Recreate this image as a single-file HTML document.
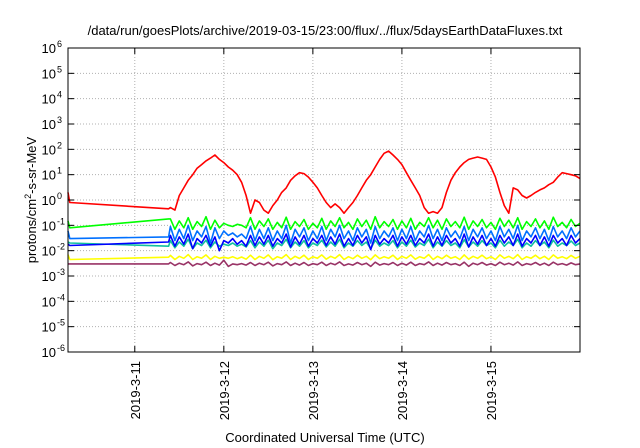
<!DOCTYPE html>
<html><head><meta charset="utf-8"><style>
body{margin:0;background:#fff;}
svg{display:block;font-family:"Liberation Sans",sans-serif;}
</style></head><body>
<svg id="chart" width="640" height="448" viewBox="0 0 640 448" xmlns="http://www.w3.org/2000/svg">
<rect width="640" height="448" fill="#fff"/>
<text x="325" y="35" font-size="13" text-anchor="middle" fill="#000">/data/run/goesPlots/archive/2019-03-15/23:00/flux/../flux/5daysEarthDataFluxes.txt</text>
<text x="325" y="442" font-size="13" text-anchor="middle" fill="#000">Coordinated Universal Time (UTC)</text>
<text transform="translate(36,200) rotate(-90)" font-size="13" text-anchor="middle" fill="#000">protons/cm<tspan dy="-5" font-size="9">2</tspan><tspan dy="5">-s-sr-MeV</tspan></text>
<g id="grid"></g><g id="series"></g><g id="axes"></g>
</svg>
<script>
// time in days since 2019-03-10 00:00
const xTickDays = [1, 2, 3, 4, 5];
const xTickLabels = ["2019-3-11", "2019-3-12", "2019-3-13", "2019-3-14", "2019-3-15"];
const yTickExps = [-6, -5, -4, -3, -2, -1, 0, 1, 2, 3, 4, 5, 6];
const preTimes = [0.25, 0.27, 1.38];
const noisyStart = 1.40;
const noisyStep = 0.05;
const seriesNames = ["purple", "yellow", "teal", "blue", "lightblue", "green", "red"];
const purplePre = [0.003, 0.003, 0.003];
const yellowPre = [0.007, 0.0045, 0.0055];
const tealPre = [0.022, 0.02, 0.015];
const bluePre = [0.018, 0.016, 0.022];
const lightbluePre = [0.06, 0.03, 0.035];
const greenPre = [0.15, 0.08, 0.18];
const redPre = [2.0, 0.8, 0.45];
const red = [0.5,0.4,1.5,3,6,10,18,25,35,45,60,40,30,20,15,10,5,1.5,0.3,1,0.8,0.4,0.3,0.6,1,2,3,6,9,12,11,8,5,3,1.5,0.8,0.5,0.7,0.5,0.3,0.5,0.8,1.5,3,6,10,20,40,70,85,60,40,25,12,6,3,1.5,0.5,0.3,0.35,0.3,0.5,2,6,12,20,30,40,45,50,45,40,20,8,2,0.6,0.3,3,2.5,1.5,1.2,1.5,2,2.5,3,4,5,8,12,11,10,9,7];
const green = [0.18,0.07,0.15,0.08,0.2,0.07,0.14,0.09,0.22,0.07,0.16,0.08,0.12,0.1,0.09,0.11,0.1,0.08,0.2,0.07,0.15,0.09,0.18,0.07,0.13,0.08,0.21,0.07,0.14,0.09,0.17,0.07,0.12,0.08,0.19,0.07,0.15,0.09,0.2,0.08,0.13,0.07,0.18,0.09,0.16,0.07,0.22,0.08,0.14,0.09,0.17,0.07,0.15,0.08,0.19,0.07,0.13,0.09,0.2,0.08,0.16,0.07,0.18,0.09,0.14,0.08,0.21,0.07,0.15,0.09,0.17,0.08,0.13,0.07,0.19,0.09,0.16,0.08,0.2,0.07,0.14,0.09,0.18,0.08,0.15,0.07,0.21,0.09,0.13,0.08,0.17,0.09,0.12];
const lightblue = [0.09,0.025,0.07,0.03,0.1,0.025,0.06,0.035,0.09,0.02,0.08,0.03,0.06,0.04,0.05,0.035,0.045,0.03,0.09,0.025,0.07,0.03,0.08,0.025,0.06,0.03,0.1,0.02,0.07,0.035,0.08,0.025,0.06,0.03,0.09,0.025,0.07,0.035,0.1,0.03,0.06,0.025,0.08,0.035,0.07,0.02,0.09,0.03,0.06,0.035,0.08,0.025,0.07,0.03,0.09,0.025,0.06,0.035,0.1,0.03,0.07,0.025,0.08,0.035,0.06,0.03,0.09,0.025,0.07,0.035,0.08,0.03,0.06,0.025,0.09,0.035,0.07,0.03,0.1,0.025,0.06,0.035,0.08,0.03,0.07,0.025,0.09,0.035,0.06,0.03,0.08,0.035,0.06];
const blue = [0.04,0.015,0.035,0.018,0.045,0.012,0.03,0.02,0.04,0.015,0.035,0.01,0.025,0.02,0.03,0.018,0.025,0.015,0.04,0.016,0.035,0.018,0.04,0.015,0.03,0.02,0.045,0.014,0.035,0.018,0.04,0.015,0.03,0.02,0.04,0.016,0.035,0.018,0.045,0.015,0.03,0.016,0.04,0.02,0.035,0.011,0.04,0.018,0.03,0.02,0.04,0.015,0.035,0.018,0.04,0.016,0.03,0.02,0.045,0.015,0.035,0.016,0.04,0.02,0.03,0.015,0.045,0.014,0.035,0.018,0.04,0.016,0.03,0.015,0.04,0.02,0.035,0.016,0.045,0.015,0.03,0.02,0.04,0.016,0.035,0.015,0.04,0.02,0.03,0.016,0.04,0.02,0.03];
const teal = [0.025,0.013,0.022,0.015,0.028,0.012,0.02,0.016,0.026,0.013,0.022,0.015,0.018,0.016,0.02,0.015,0.018,0.014,0.025,0.013,0.022,0.015,0.026,0.012,0.02,0.016,0.028,0.013,0.022,0.015,0.025,0.013,0.02,0.016,0.026,0.014,0.022,0.015,0.028,0.013,0.02,0.015,0.025,0.016,0.022,0.012,0.026,0.015,0.02,0.016,0.025,0.013,0.022,0.015,0.026,0.014,0.02,0.016,0.028,0.013,0.022,0.015,0.025,0.016,0.02,0.013,0.027,0.014,0.022,0.015,0.025,0.016,0.02,0.013,0.026,0.015,0.022,0.016,0.028,0.013,0.02,0.015,0.025,0.016,0.022,0.013,0.026,0.015,0.02,0.016,0.024,0.016,0.02];
const yellow = [0.0065,0.0045,0.006,0.005,0.007,0.0045,0.0058,0.005,0.0068,0.0045,0.006,0.005,0.0055,0.005,0.0058,0.0048,0.0056,0.0046,0.0066,0.0045,0.006,0.005,0.0068,0.0044,0.0058,0.005,0.007,0.0045,0.006,0.0049,0.0066,0.0045,0.0058,0.005,0.0068,0.0046,0.006,0.005,0.007,0.0045,0.0058,0.0048,0.0066,0.005,0.006,0.0044,0.0068,0.0048,0.0058,0.005,0.0066,0.0045,0.006,0.005,0.0068,0.0046,0.0058,0.005,0.007,0.0045,0.006,0.0048,0.0066,0.005,0.0058,0.0045,0.0068,0.0046,0.006,0.005,0.0066,0.0048,0.0058,0.0045,0.0068,0.005,0.006,0.0048,0.007,0.0045,0.0058,0.005,0.0066,0.0048,0.006,0.0045,0.0068,0.005,0.0058,0.0048,0.0065,0.005,0.006];
const purple = [0.0034,0.0026,0.0032,0.0028,0.0036,0.0025,0.0031,0.0028,0.0035,0.0026,0.0032,0.0027,0.0042,0.0024,0.003,0.0028,0.0031,0.0027,0.0034,0.0026,0.0032,0.0028,0.0035,0.0025,0.0031,0.0028,0.0036,0.0026,0.0032,0.0027,0.0034,0.0026,0.0031,0.0028,0.0035,0.0026,0.0032,0.0028,0.0036,0.0026,0.003,0.0027,0.0034,0.0028,0.0032,0.0024,0.0035,0.0027,0.0031,0.0028,0.0034,0.0026,0.0032,0.0027,0.0035,0.0026,0.0031,0.0028,0.0036,0.0026,0.0032,0.0027,0.0034,0.0028,0.0031,0.0026,0.0035,0.0024,0.0032,0.0028,0.0034,0.0027,0.0031,0.0026,0.0035,0.0028,0.0032,0.0027,0.0036,0.0026,0.0031,0.0028,0.0034,0.0027,0.0032,0.0026,0.0035,0.0028,0.0031,0.0027,0.0033,0.0028,0.003];

const NS = "http://www.w3.org/2000/svg";
const L = 68, R = 580, T = 48, B = 352;
const tMin = 0.25, tMax = 6.0;
function xScale(t) { return L + (t - tMin) / (tMax - tMin) * (R - L); }
function yScale(v) { return B - (Math.log10(v) + 6) / 12 * (B - T); }
function mk(tag, attrs, parent) {
  const e = document.createElementNS(NS, tag);
  for (const k in attrs) e.setAttribute(k, attrs[k]);
  parent.appendChild(e);
  return e;
}
const grid = document.getElementById("grid");
const axes = document.getElementById("axes");
const seriesG = document.getElementById("series");

yTickExps.forEach(function (ex) {
  const y = yScale(Math.pow(10, ex));
  if (ex > -6 && ex < 6) {
    const g = mk("line", {x1: L, x2: R, y1: y, y2: y, stroke: "#b0b0b0", "stroke-width": 1, "stroke-dasharray": "1,2"}, grid);
    
    
  }
  const t1 = mk("line", {x1: L, x2: L + 6, y1: y, y2: y, stroke: "#000"}, axes);
  
  
  const t2 = mk("line", {x1: R - 6, x2: R, y1: y, y2: y, stroke: "#000"}, axes);
  
  
  const lab = mk("text", {x: 56, y: y + 5, "font-size": 13, "text-anchor": "end", fill: "#000"}, axes);
  
  
  lab.textContent = "10";
  const sup = mk("tspan", {dy: -6, "font-size": 9}, lab);
  sup.textContent = String(ex);
  sup.setAttribute("x", 57);
  sup.setAttribute("text-anchor", "start");
});

xTickDays.forEach(function (d, i) {
  const x = xScale(d);
  const g = mk("line", {x1: x, x2: x, y1: T, y2: B, stroke: "#b0b0b0", "stroke-width": 1, "stroke-dasharray": "1,2"}, grid);
  
  
  const tk = mk("line", {x1: x, x2: x, y1: B - 6, y2: B, stroke: "#000"}, axes);
  
  
  const tk2 = mk("line", {x1: x, x2: x, y1: T, y2: T + 6, stroke: "#000"}, axes);
  
  
  const lab = mk("text", {transform: "translate(" + (x + 5) + ",361) rotate(-90)", "font-size": 13, "text-anchor": "end", fill: "#000"}, axes);
  
  
  lab.textContent = xTickLabels[i];
});

const frame = mk("rect", {x: L, y: T, width: R - L, height: B - T, fill: "none", stroke: "#000", "stroke-width": 1}, axes);



const seriesData = {purple: [purplePre, purple], yellow: [yellowPre, yellow], teal: [tealPre, teal], blue: [bluePre, blue], lightblue: [lightbluePre, lightblue], green: [greenPre, green], red: [redPre, red]};
const colors = {purple: "#993366", yellow: "#ffff00", teal: "#10c0a0", blue: "#0000ff", lightblue: "#0070ff", green: "#00ff00", red: "#ff0000"};
seriesNames.forEach(function (name) {
  const pre = seriesData[name][0], vals = seriesData[name][1];
  const pts = [];
  pre.forEach(function (v, i) { pts.push(xScale(preTimes[i]).toFixed(1) + "," + yScale(v).toFixed(1)); });
  vals.forEach(function (v, i) { pts.push(xScale(noisyStart + i * noisyStep).toFixed(1) + "," + yScale(v).toFixed(1)); });
  const pl = mk("polyline", {points: pts.join(" "), fill: "none", stroke: colors[name], "stroke-width": 1.6, "stroke-linejoin": "round"}, seriesG);
  
  
});
</script>
</body></html>
